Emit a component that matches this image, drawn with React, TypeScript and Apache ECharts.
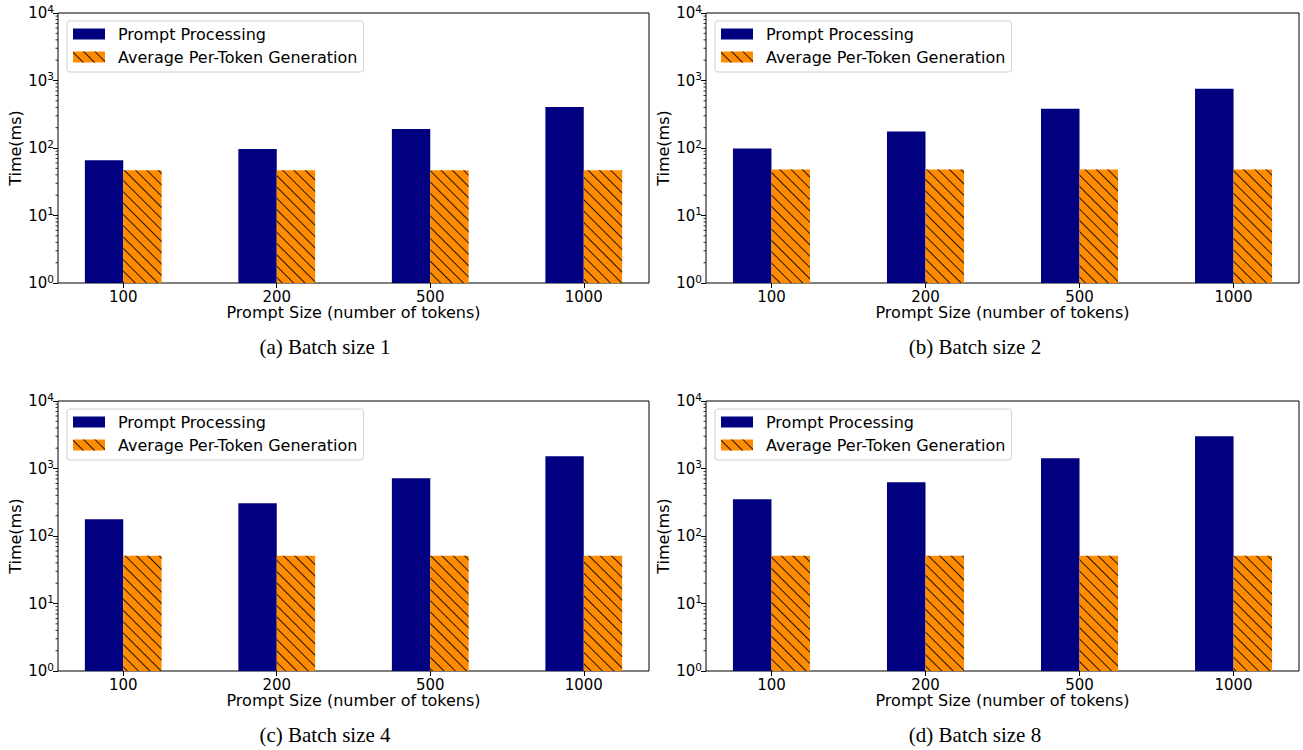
import React, { useEffect, useRef } from 'react';
import * as echarts from 'echarts';

const categories = ['100', '200', '500', '1000'];
const promptB1 = [66, 97, 191, 405];
const genB1 = [47, 47, 47, 47];
const promptB2 = [98, 175, 383, 757];
const genB2 = [48, 48, 48, 48];
const promptB4 = [177, 306, 717, 1518];
const genB4 = [51, 51, 51, 51];
const promptB8 = [351, 626, 1419, 3001];
const genB8 = [51, 51, 51, 51];
const captions = ['(a) Batch size 1', '(b) Batch size 2', '(c) Batch size 4', '(d) Batch size 8'];
const yMajorTicks = [1, 10, 100, 1000, 10000];
const yMinorTicks = [
  2, 3, 4, 5, 6, 7, 8, 9,
  20, 30, 40, 50, 60, 70, 80, 90,
  200, 300, 400, 500, 600, 700, 800, 900,
  2000, 3000, 4000, 5000, 6000, 7000, 8000, 9000,
];
const seriesNames = ['Prompt Processing', 'Average Per-Token Generation'];
const xTitle = 'Prompt Size (number of tokens)';
const yTitle = 'Time(ms)';

const panels = [
  { prompt: promptB1, gen: genB1 },
  { prompt: promptB2, gen: genB2 },
  { prompt: promptB4, gen: genB4 },
  { prompt: promptB8, gen: genB8 },
];

const layout = [
  { left: 58, top: 13, width: 591, cx: 325, cy: 347 },
  { left: 706, top: 13, width: 593, cx: 975, cy: 347 },
  { left: 58, top: 401, width: 591, cx: 325, cy: 735 },
  { left: 706, top: 401, width: 593, cx: 975, cy: 735 },
];

const FONT = 'DejaVu Sans';

export default function App() {
  const ref = useRef<HTMLDivElement>(null);
  useEffect(() => {
    const chart = echarts.init(ref.current!, null, { renderer: 'svg' });
    const grid: any[] = [];
    const xAxis: any[] = [];
    const yAxis: any[] = [];
    const series: any[] = [];
    const legend: any[] = [];
    const graphic: any[] = [];
    panels.forEach((p, i) => {
      const L = layout[i];
      grid.push({
        left: L.left, top: L.top, width: L.width, height: 270,
        show: true, borderColor: '#000', borderWidth: 1, backgroundColor: 'transparent',
      });
      xAxis.push({
        gridIndex: i, type: 'value', min: -0.425, max: 3.425,
        splitLine: { show: false },
        axisLine: { show: false, onZero: false },
        axisTick: { show: true, customValues: [0, 1, 2, 3], length: 5, lineStyle: { color: '#000', width: 1 } },
        axisLabel: {
          customValues: [0, 1, 2, 3],
          formatter: (v: number) => categories[Math.round(v)],
          fontSize: 15, color: '#000', fontFamily: FONT, margin: 6,
        },
        name: xTitle, nameLocation: 'middle', nameGap: 20,
        nameTextStyle: { fontSize: 16, color: '#000', fontFamily: FONT },
      });
      yAxis.push({
        gridIndex: i, type: 'log', logBase: 10, min: 1, max: 10000,
        splitLine: { show: false },
        axisLine: { show: false, onZero: false },
        axisTick: { show: true, customValues: yMajorTicks, length: 5, lineStyle: { color: '#000', width: 1 } },
        axisLabel: {
          customValues: yMajorTicks,
          formatter: (v: number) => '{b|10}{sup|' + Math.round(Math.log10(v)) + '}',
          margin: 4,
          rich: {
            b: { fontSize: 15, lineHeight: 20, color: '#000', fontFamily: FONT },
            sup: { fontSize: 10.5, lineHeight: 10, verticalAlign: 'top', color: '#000', fontFamily: FONT },
          },
        },
        name: yTitle, nameLocation: 'middle', nameGap: 35,
        nameTextStyle: { fontSize: 16, color: '#000', fontFamily: FONT },
      });
      series.push({
        type: 'bar', name: seriesNames[0], xAxisIndex: i, yAxisIndex: i,
        data: p.prompt.map((v, j) => [j, v]),
        barWidth: '25%', barGap: '0%',
        itemStyle: { color: '#000080' },
      });
      series.push({
        type: 'bar', name: seriesNames[1], xAxisIndex: i, yAxisIndex: i,
        data: p.gen.map((v, j) => [j, v]),
        barWidth: '25%', barGap: '0%',
        itemStyle: {
          color: '#FF8C00',
          decal: {
            symbol: 'rect', symbolSize: 1, color: 'rgba(0,0,0,0.85)',
            dashArrayX: [1, 0], dashArrayY: [1, 7], rotation: Math.PI / 4,
          },
        },
      });
      series.push({
        type: 'custom', name: 'minorTicks', xAxisIndex: i, yAxisIndex: i,
        silent: true, clip: false,
        data: yMinorTicks.map((v) => [0, v]),
        renderItem: (params: any, api: any) => {
          const y = api.coord([api.value(0), api.value(1)])[1];
          const x = params.coordSys.x;
          return {
            type: 'line',
            shape: { x1: x - 2.5, y1: y, x2: x, y2: y },
            style: { stroke: '#000', lineWidth: 0.8 },
          };
        },
      });
      legend.push({
        data: seriesNames,
        left: L.left + 9, top: L.top + 8,
        orient: 'vertical', icon: 'rect',
        itemWidth: 32, itemHeight: 11, itemGap: 7,
        padding: [5, 6, 7, 6],
        backgroundColor: 'rgba(255,255,255,0.8)',
        borderColor: '#d0d0d0', borderWidth: 1, borderRadius: 3,
        selectedMode: false,
        textStyle: { fontSize: 16, color: '#000', fontFamily: FONT, padding: [0, 0, 0, 8] },
      });
      graphic.push({
        type: 'text', x: L.cx, y: L.cy,
        style: {
          text: captions[i], fill: '#000', font: '21px "Liberation Serif"',
          textAlign: 'center', textVerticalAlign: 'middle',
        },
      });
    });
    chart.setOption({
      animation: false,
      backgroundColor: '#fff',
      grid, xAxis, yAxis, series, legend, graphic,
    });
    return () => chart.dispose();
  }, []);
  return (
    <div
      ref={ref}
      style={{ position: 'fixed', left: 0, top: 0, width: 1303, height: 750 }}
    />
  );
}
